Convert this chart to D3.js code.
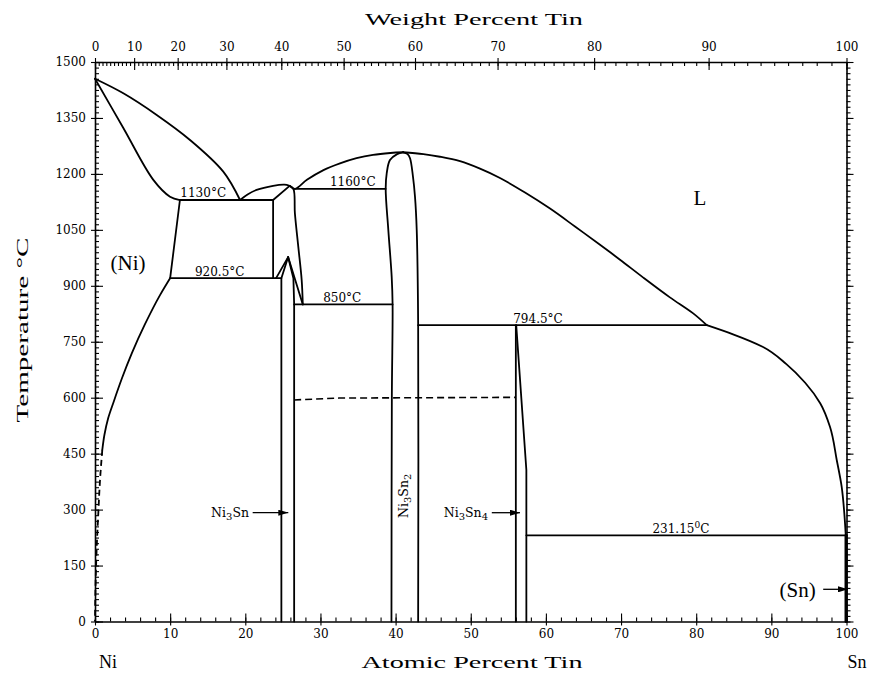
<!DOCTYPE html>
<html><head><meta charset="utf-8">
<script src="https://cdn.jsdelivr.net/npm/d3@7"></script>
<style>
body{margin:0;background:#fff;}
svg{display:block;}
</style></head><body>
<svg id="chart" width="874" height="673"></svg>
<script>
// Ni–Sn phase boundaries as [atomic % Sn, temperature °C]
const liquidusNi = [[0,1455],[3.77,1416],[8.21,1358],[12.64,1291],[17.07,1206],[19.3,1130]];
const solidusNi = [[0,1455],[3.77,1323],[7.76,1184],[9.98,1139],[11.3,1130]];
const solvusNi = [[11.3,1130],[10.0,920.5],[8.65,875],[6.65,797],[4.92,720],[3.55,650],[2.5,590],[1.75,545],[1.25,500],[0.97,460]];
const solvusNiDashed = [[0.97,460],[0.67,380],[0.44,290],[0.23,200],[0.09,111],[0.02,40],[0,0]];
const liquidusNi3Sn = [[19.3,1130],[20.3,1145],[21.5,1157],[23.7,1168],[25.2,1171],[25.9,1168]];
const liquidusMid = [[25.9,1168],[26.6,1160],[28.2,1184],[30.4,1210],[32.6,1228],[34.8,1242],[37.0,1251],[39.3,1256],[41.0,1258]];
const liquidusSnRich = [[41.0,1258],[43.7,1253],[45.9,1246],[48.57,1234],[51.23,1214],[53.89,1189],[57.22,1150],[60.55,1107],[63.87,1059],[67.2,1010],[69.86,970],[72.96,922],[76.5,869],[79.6,826],[81.4,794.5]];
const liquidusSnEnd = [[81.4,794.5],[84.9,770],[88.9,736],[92.0,690],[94.5,640],[96.5,585],[97.8,522],[98.7,433],[99.36,361],[99.71,290],[99.9,231.15]];

// Ni3Sn (high- and low-temperature forms)
const ni3SnHTSolidus = [[23.7,1130],[25.9,1168]];
const ni3SnHTWall = [[23.7,1130],[23.7,920.5]];
const ni3SnHTRight = [[25.9,1168],[26.4,1160],[26.6,1094],[27.05,1005],[27.5,916],[27.65,850]];
const ni3SnLTOuterLeft = [[25.7,977],[24.1,920.5]];
const ni3SnLTLeft = [[25.7,977],[24.8,920.5],[24.8,0]];
const ni3SnLTRight = [[25.7,977],[26.4,920],[26.5,850],[26.5,0]];
const ni3SnLTOuterRight = [[25.7,977],[27.65,850]];

// Ni3Sn2
const ni3Sn2Left = [[41.0,1258],[40.2,1253],[39.25,1237],[38.82,1202],[38.68,1160],[39.03,1050],[39.48,924],[39.6,850],[39.5,600],[39.45,0]];
const ni3Sn2Right = [[41.0,1258],[41.6,1253],[41.92,1242],[42.3,1195],[42.58,1139],[42.81,1050],[43.0,800],[43.0,0]];
const ni3Sn2Transition = [[26.5,594],[32.5,599],[56.0,601]];

// Ni3Sn4
const ni3Sn4Left = [[56.0,794.5],[56.0,0]];
const ni3Sn4Right = [[56.05,794.5],[57.4,406],[57.4,0]];

// (Sn)
const snSolid = [[99.95,231.15],[99.95,0]];

// invariant reactions: [temperature, left at.%, right at.%]
const isotherms = [[1130,11.3,23.7],[920.5,10.0,24.8],[1160,26.4,38.68],[850,26.5,39.6],[794.5,43.0,81.4],[231.15,57.4,100]];

// axis ticks
const atTicks = d3.range(0,101,10);
const atMinor = d3.range(0,101,2);
const wtTicks = d3.range(0,101,10);
const wtMinor = d3.range(0,101,1);
const tTicks = d3.range(0,1501,150);
const tMinor = d3.range(0,1501,15);

const M_NI = 58.693, M_SN = 118.71;
const wtToAt = w => { const a = w/M_SN, b = (100-w)/M_NI; return 100*a/(a+b); };

const svg = d3.select("#chart");
const x = d3.scaleLinear().domain([0,100]).range([95,846.5]);
const y = d3.scaleLinear().domain([0,1500]).range([621.5,62]);
const fmt = d3.format("d");

const tickFont = "DejaVu Serif";
const styleAxis = g => {
  g.selectAll("text").attr("font-family", tickFont).attr("font-size", 12).attr("fill","#000");
  g.selectAll("line").attr("stroke","#000").attr("stroke-width",1.1);
  g.select(".domain").attr("stroke","#000").attr("stroke-width",1.6);
};

// bottom axis (atomic %)
svg.append("g").attr("transform",`translate(0,${y(0)})`)
  .call(d3.axisBottom(x).tickValues(atMinor).tickSize(-4).tickFormat("").tickSizeOuter(0)).call(styleAxis);
svg.append("g").attr("transform",`translate(0,${y(0)})`)
  .call(d3.axisBottom(x).tickValues(atTicks).tickSize(4).tickFormat("").tickSizeOuter(0)).call(styleAxis)
  .select(".domain").remove();
svg.append("g").attr("transform",`translate(0,${y(0)})`)
  .call(d3.axisBottom(x).tickValues(atTicks).tickSize(-8).tickPadding(8).tickFormat(fmt).tickSizeOuter(0)).call(styleAxis)
  .select(".domain").remove();

// top axis (weight %)
const wtPos = wtTicks.map(wtToAt), wtMinorPos = wtMinor.map(wtToAt);
svg.append("g").attr("transform",`translate(0,${y(1500)})`)
  .call(d3.axisTop(x).tickValues(wtMinorPos).tickSize(-4).tickFormat("").tickSizeOuter(0)).call(styleAxis);
svg.append("g").attr("transform",`translate(0,${y(1500)})`)
  .call(d3.axisTop(x).tickValues(wtPos).tickSize(4).tickFormat("").tickSizeOuter(0)).call(styleAxis)
  .select(".domain").remove();
svg.append("g").attr("transform",`translate(0,${y(1500)})`)
  .call(d3.axisTop(x).tickValues(wtPos).tickSize(-8).tickPadding(11).tickFormat((d,i)=>wtTicks[i]).tickSizeOuter(0)).call(styleAxis)
  .select(".domain").remove();

// left axis (temperature)
svg.append("g").attr("transform",`translate(${x(0)},0)`)
  .call(d3.axisLeft(y).tickValues(tMinor).tickSize(-4).tickFormat("").tickSizeOuter(0)).call(styleAxis);
svg.append("g").attr("transform",`translate(${x(0)},0)`)
  .call(d3.axisLeft(y).tickValues(tTicks).tickSize(4).tickFormat("").tickSizeOuter(0)).call(styleAxis)
  .select(".domain").remove();
svg.append("g").attr("transform",`translate(${x(0)},0)`)
  .call(d3.axisLeft(y).tickValues(tTicks).tickSize(-8).tickPadding(9).tickFormat(fmt).tickSizeOuter(0)).call(styleAxis)
  .select(".domain").remove();

// right axis, ticks outside
svg.append("g").attr("transform",`translate(${x(100)},0)`)
  .call(d3.axisRight(y).tickValues(tMinor).tickSize(4).tickFormat("").tickSizeOuter(0)).call(styleAxis);
svg.append("g").attr("transform",`translate(${x(100)},0)`)
  .call(d3.axisRight(y).tickValues(tTicks).tickSize(7).tickFormat("").tickSizeOuter(0)).call(styleAxis)
  .select(".domain").remove();

// phase boundaries
const plot = svg.append("g").attr("fill","none").attr("stroke","#000").attr("stroke-width",1.8)
  .attr("stroke-linejoin","round").attr("stroke-linecap","round");
const smooth = d3.line().x(d=>x(d[0])).y(d=>y(d[1])).curve(d3.curveMonotoneY);
const smoothX = d3.line().x(d=>x(d[0])).y(d=>y(d[1])).curve(d3.curveCatmullRom.alpha(0.5));
const straight = d3.line().x(d=>x(d[0])).y(d=>y(d[1]));

[liquidusNi, solidusNi, liquidusNi3Sn, liquidusMid, liquidusSnRich,
 ni3SnHTRight, ni3Sn2Left, ni3Sn2Right].forEach(p => plot.append("path").attr("d", smoothX(p)));
plot.append("path").attr("d", smooth(liquidusSnEnd));
plot.append("path").attr("d", straight(solvusNi.slice(0,2)));
plot.append("path").attr("d", smooth(solvusNi.slice(1)));
[ni3SnHTSolidus, ni3SnHTWall, ni3SnLTOuterLeft, ni3SnLTLeft, ni3SnLTRight, ni3SnLTOuterRight,
 ni3Sn4Left, ni3Sn4Right].forEach(p => plot.append("path").attr("d", straight(p)));
plot.append("path").attr("d", smooth(solvusNiDashed)).attr("stroke-dasharray","6,4").attr("stroke-linecap","butt");
plot.append("path").attr("d", straight(ni3Sn2Transition)).attr("stroke-dasharray","7,4").attr("stroke-width",1.6).attr("stroke-linecap","butt");
plot.append("path").attr("d", straight(snSolid)).attr("stroke-width",3.2);
plot.selectAll("line.iso").data(isotherms).join("line").attr("class","iso")
  .attr("x1",d=>x(d[1])).attr("x2",d=>x(d[2])).attr("y1",d=>y(d[0])).attr("y2",d=>y(d[0]));

// arrows to narrow phase fields
const defs = svg.append("defs");
defs.append("marker").attr("id","head").attr("viewBox","0 0 10 6").attr("refX",10).attr("refY",3)
  .attr("markerWidth",10).attr("markerHeight",6).attr("markerUnits","userSpaceOnUse").attr("orient","auto")
  .append("path").attr("d","M0,0L10,3L0,6Z").attr("fill","#000");
const arrows = [[20.98,25.72,291.7],[52.8,56.55,291.7],[96.9,100.2,86.3]];
svg.append("g").selectAll("line").data(arrows).join("line")
  .attr("x1",d=>x(d[0])).attr("x2",d=>x(d[1])).attr("y1",d=>y(d[2])).attr("y2",d=>y(d[2]))
  .attr("stroke","#000").attr("stroke-width",1.3).attr("marker-end","url(#head)");

// text
const lab = svg.append("g").attr("font-family","DejaVu Serif").attr("fill","#000");
const isoLabel = (at, t, dy, parts) => {
  const tx = lab.append("text").attr("x",x(at)).attr("y",y(t)+dy).attr("text-anchor","middle").attr("font-size",12);
  parts.forEach(p => { const s = tx.append("tspan").text(p[0]); if (p[1]) s.attr("baseline-shift","super").attr("font-size",9); });
};
isoLabel(14.4,1130,-3,[["1130°C"]]);
isoLabel(16.6,920.5,-2,[["920.5°C"]]);
isoLabel(34.3,1160,-3,[["1160°C"]]);
isoLabel(32.9,850,-2,[["850°C"]]);
isoLabel(58.95,794.5,-2.5,[["794.5°C"]]);
isoLabel(77.96,231.15,-2,[["231.15"],["0",true],["C"]]);

const big = (txt, at, t) => lab.append("text").attr("x",x(at)).attr("y",y(t)).attr("text-anchor","middle")
  .attr("font-family","Liberation Serif").attr("font-size",21).text(txt);
big("(Ni)",4.4,942);
big("L",80.5,1117);
big("(Sn)",93.5,66.5);

const formula = (parts, attrs) => {
  const t = lab.append("text").attr("font-size",12.5);
  Object.entries(attrs).forEach(([k,v]) => t.attr(k,v));
  parts.forEach(p => { const s = t.append("tspan").text(p[0]); if (p[1]) s.attr("baseline-shift","-30%").attr("font-size",10); });
  return t;
};
formula([["Ni"],["3",true],["Sn"]], {x:x(20.5), y:y(281), "text-anchor":"end"});
formula([["Ni"],["3",true],["Sn"],["4",true]], {x:x(52.3), y:y(280), "text-anchor":"end"});
formula([["Ni"],["3",true],["Sn"],["2",true]], {"text-anchor":"middle",
  transform:`translate(${x(41.7)},${y(337)}) rotate(-90)`});

// axis titles
const title = (txt, tx, ty, len, rot) => lab.append("text")
  .attr("transform",`translate(${tx},${ty})${rot?" rotate(-90)":""}`)
  .attr("text-anchor","middle").attr("font-family","Liberation Serif").attr("font-size",17)
  .attr("textLength",len).attr("lengthAdjust","spacingAndGlyphs").text(txt);
title("Weight Percent Tin", 474, 25, 218);
title("Atomic Percent Tin", 472, 668, 221);
title("Temperature °C", 28, 330, 185, true);
lab.append("text").attr("x",108).attr("y",668).attr("text-anchor","middle").attr("font-family","Liberation Serif").attr("font-size",18).text("Ni");
lab.append("text").attr("x",857).attr("y",668).attr("text-anchor","middle").attr("font-family","Liberation Serif").attr("font-size",18).text("Sn");
</script>
</body></html>
